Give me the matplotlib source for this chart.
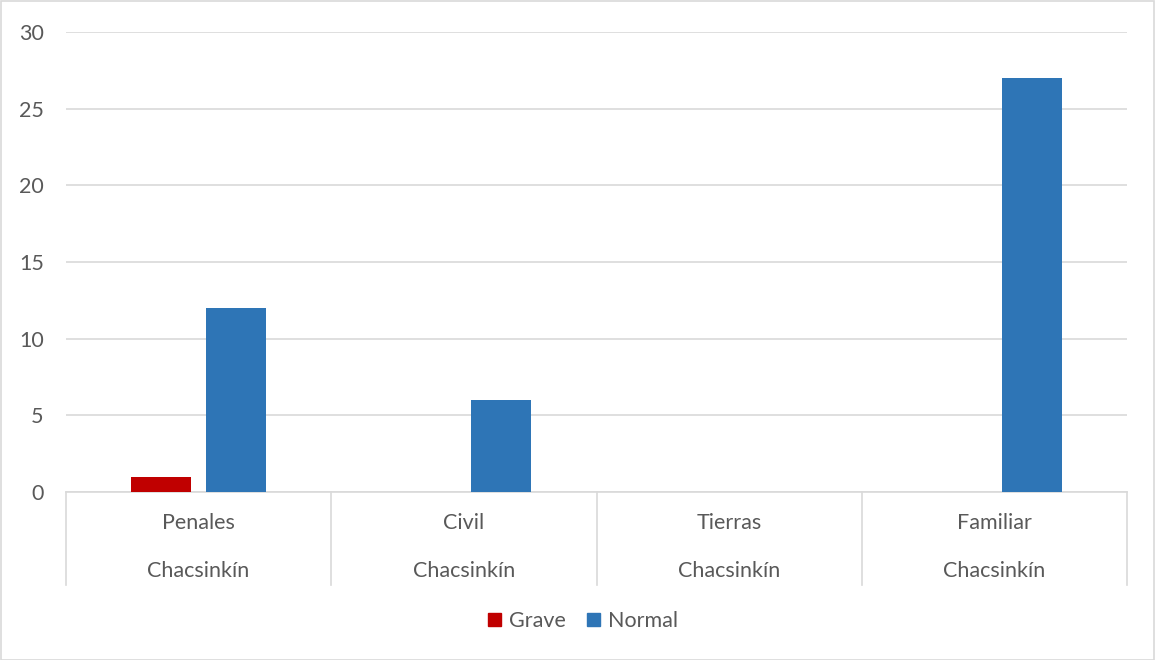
import matplotlib
matplotlib.use("Agg")
import matplotlib.pyplot as plt
from matplotlib.patches import Rectangle
from matplotlib.lines import Line2D
import numpy as np

categories = ["Penales", "Civil", "Tierras", "Familiar"]
group_label = "Chacsinkín"
series_names = ["Grave", "Normal"]
grave = [1, 0, 0, 0]
normal = [12, 6, 0, 27]
colors = ["#C00000", "#2E75B6"]

plt.rcParams["font.family"] = ["Lato", "DejaVu Sans"]
text_color = "#595959"
grid_color = "#D9D9D9"
fs = 15.5

fig = plt.figure(figsize=(11.55, 6.6), dpi=100)
ax = fig.add_axes([66 / 1155, 1 - 492 / 660, (1127 - 66) / 1155, (492 - 32) / 660])

x = np.arange(len(categories))
width = 0.226
offset = 0.1415
for vals, col, off in [(grave, colors[0], -offset), (normal, colors[1], offset)]:
    ax.bar(x + off, vals, width=width, color=col, zorder=3)

ax.set_xlim(-0.5, len(categories) - 0.5)
ax.set_ylim(0, 30)
ax.set_yticks(range(0, 31, 5))
ax.yaxis.grid(True, color=grid_color, linewidth=1.2)
ax.set_axisbelow(True)
for s in ["top", "right", "left"]:
    ax.spines[s].set_visible(False)
ax.spines["bottom"].set_color(grid_color)
ax.spines["bottom"].set_linewidth(1.2)
ax.tick_params(axis="y", length=0, pad=16, labelsize=fs, labelcolor=text_color)
ax.set_xticks([])

# two-level category axis: separators and labels
trans = ax.get_xaxis_transform()
for b in np.arange(len(categories) + 1) - 0.5:
    ax.add_line(Line2D([b, b], [0, -93 / 460], transform=trans, color=grid_color,
                       linewidth=1.2, clip_on=False))
for i, c in enumerate(categories):
    ax.text(i, -31 / 460, c, transform=trans, ha="center", va="center",
            fontsize=fs, color=text_color)
    ax.text(i, -79 / 460, group_label, transform=trans, ha="center", va="center",
            fontsize=fs, color=text_color)

# legend
handles = [Rectangle((0, 0), 1, 1, color=c) for c in colors]
fig.legend(handles, series_names, loc="center", bbox_to_anchor=(583 / 1155, 1 - 621 / 660),
           ncol=2, frameon=False, fontsize=fs, labelcolor=text_color,
           handlelength=0.6, handleheight=0.6, handletextpad=0.35, columnspacing=1.0)

# chart border
fig.add_artist(Rectangle((0.5 / 1155, 0.5 / 660), 1 - 1.5 / 1155, 1 - 1.5 / 660,
                         transform=fig.transFigure, fill=False, edgecolor=grid_color, linewidth=1.2))

fig.savefig("out.png", dpi=100)
